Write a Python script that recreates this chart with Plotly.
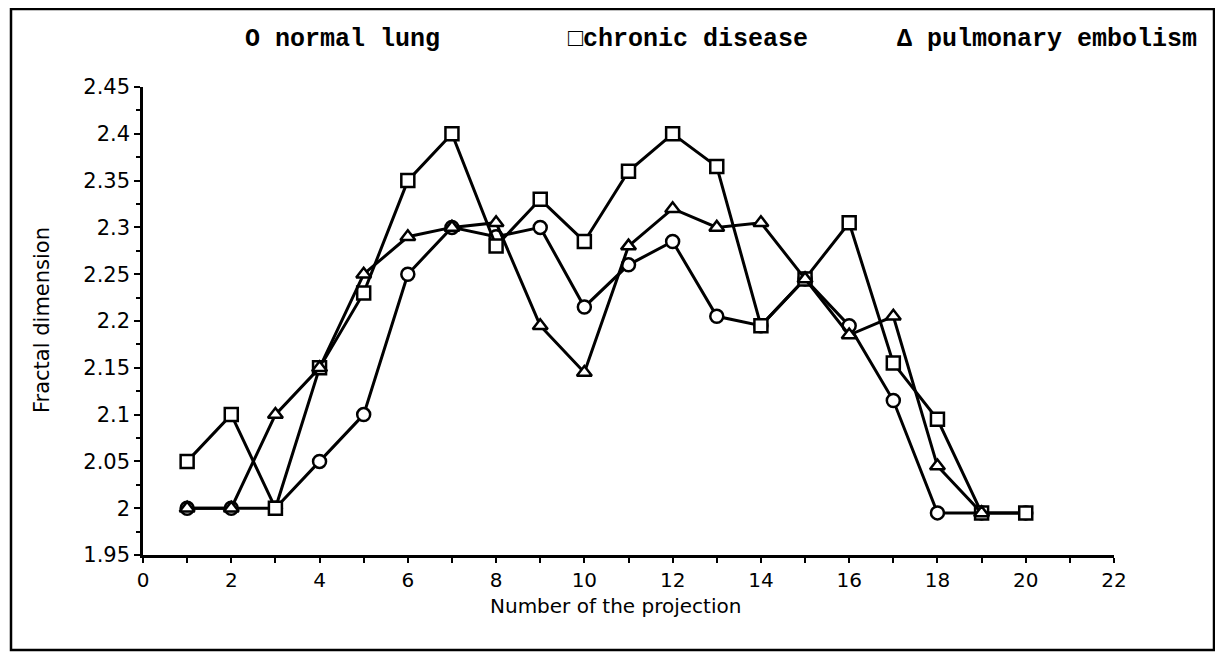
import plotly.graph_objects as go

projection = list(range(1, 21))
normal_lung = [2.0, 2.0, 2.0, 2.05, 2.1, 2.25, 2.3, 2.29, 2.3, 2.215,
               2.26, 2.285, 2.205, 2.195, 2.245, 2.195, 2.115, 1.995, 1.995, 1.995]
chronic_disease = [2.05, 2.1, 2.0, 2.15, 2.23, 2.35, 2.4, 2.28, 2.33, 2.285,
                   2.36, 2.4, 2.365, 2.195, 2.245, 2.305, 2.155, 2.095, 1.995, 1.995]
projection_pe = list(range(1, 20))
pulmonary_embolism = [2.0, 2.0, 2.1, 2.15, 2.25, 2.29, 2.3, 2.305, 2.195, 2.145,
                      2.28, 2.32, 2.3, 2.305, 2.245, 2.185, 2.205, 2.045, 1.995]

legend_labels = ["O normal lung", "\u25a1chronic disease", "\u0394 pulmonary embolism"]
y_ticks = [1.95, 2.0, 2.05, 2.1, 2.15, 2.2, 2.25, 2.3, 2.35, 2.4, 2.45]
y_tick_text = ["1.95", "2", "2.05", "2.1", "2.15", "2.2", "2.25", "2.3", "2.35", "2.4", "2.45"]
x_ticks = list(range(0, 23, 2))

OFF = 8  # page body margin
W, H = 1223 - OFF, 660 - OFF
L, R, T, B = 143 - OFF, 1114 - OFF, 87 - OFF, 555 - OFF  # plot area pixels in figure

fig = go.Figure()

def add(x, y, symbol):
    fig.add_trace(go.Scatter(
        x=x, y=y, mode="lines+markers", showlegend=False,
        line=dict(color="black", width=3),
        marker=dict(symbol=symbol, size=13, color="white",
                    line=dict(color="black", width=2.5)),
    ))

add(projection, normal_lung, "circle")
add(projection, chronic_disease, "square")
add(projection_pe, pulmonary_embolism, "triangle-up")

y_tick_font = dict(family="DejaVu Sans, Liberation Sans, Arial", size=21, color="black")
x_tick_font = dict(family="DejaVu Sans, Liberation Sans, Arial", size=20, color="black")

fig.update_layout(
    width=W, height=H,
    margin=dict(l=L, r=W - R, t=T, b=H - B, pad=0),
    paper_bgcolor="white", plot_bgcolor="white",
    xaxis=dict(range=[0, 22], tickvals=x_ticks, ticks="outside", ticklen=5,
               tickwidth=2, tickcolor="black", showline=True, linecolor="black",
               linewidth=2.5, showgrid=False, zeroline=False, tickfont=x_tick_font,
               minor=dict(dtick=1, tick0=0, ticks="outside", ticklen=5, tickwidth=2,
                          tickcolor="black", showgrid=False)),
    yaxis=dict(range=[1.95, 2.45], tickvals=y_ticks, ticktext=y_tick_text,
               ticks="outside", ticklen=6, tickwidth=2, tickcolor="black",
               showline=True, linecolor="black", linewidth=2.5, showgrid=False,
               zeroline=False, tickfont=y_tick_font,
               minor=dict(dtick=0.025, tick0=1.95, ticks="outside", ticklen=4,
                          tickwidth=2, tickcolor="black", showgrid=False)),
)

def px_x(p):
    return (p - OFF - L) / (R - L)

def px_y(p):
    return (B - (p - OFF)) / (B - T)

# outer frame
fig.add_shape(type="rect", xref="paper", yref="paper",
              x0=px_x(11), x1=px_x(1214), y0=px_y(650), y1=px_y(9),
              line=dict(color="black", width=2.5))

title_font = dict(family="DejaVu Sans, Liberation Sans, Arial", size=21, color="black")
fig.add_annotation(text="Fractal dimension", xref="paper", yref="paper",
                   x=px_x(42), y=px_y(320), textangle=-90, showarrow=False,
                   font=title_font, xanchor="center", yanchor="middle")
fig.add_annotation(text="Number of the projection", xref="paper", yref="paper",
                   x=px_x(615), y=px_y(606), showarrow=False,
                   font=dict(family="DejaVu Sans, Liberation Sans, Arial", size=20, color="black"),
                   xanchor="center", yanchor="middle")

legend_font = dict(family="Liberation Mono, DejaVu Sans Mono, monospace", size=25, color="black")
legend_x = [243, 566, 895]
for lx, lab in zip(legend_x, legend_labels):
    fig.add_annotation(text="<b>" + lab + "</b>", xref="paper", yref="paper",
                       x=px_x(lx), y=px_y(40), showarrow=False, font=legend_font,
                       xanchor="left", yanchor="middle")

fig.write_html("out.html")
